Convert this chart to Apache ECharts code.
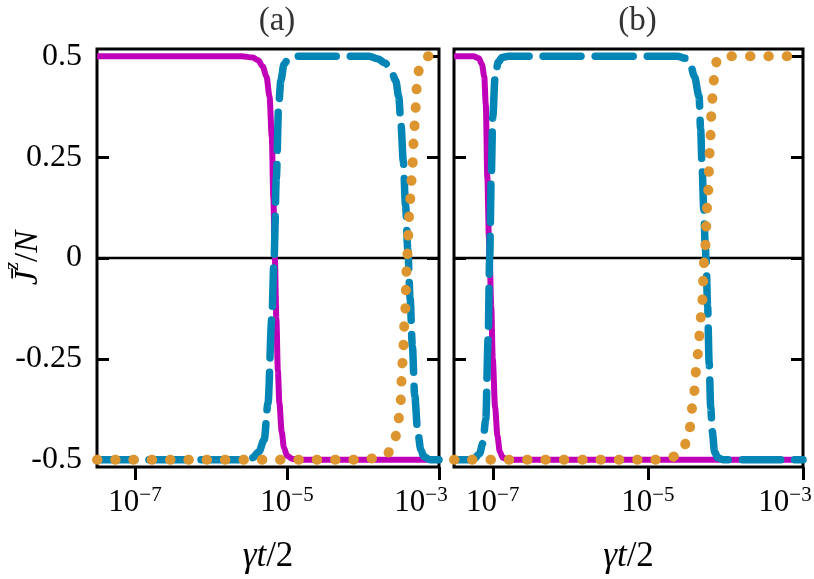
<!DOCTYPE html>
<html>
<head>
<meta charset="utf-8">
<script src="https://cdn.jsdelivr.net/npm/echarts@6/dist/echarts.min.js"></script>
<style>
  html, body { margin: 0; padding: 0; background: #fff; }
  #main { width: 814px; height: 579px; }
</style>
</head>
<body>
<div id="main"></div>
<script>
// x values are log10(gamma t / 2), y values are Jz/N
var xTicks = [-7, -5, -3];
var yTicks = [0.5, 0.25, 0, -0.25, -0.5];
var panelTitles = ['(a)', '(b)'];

// panel (a)
var magentaA = [[-7.5,0.5],[-5.6,0.5],[-5.45,0.497],[-5.38,0.49],[-5.32,0.475],[-5.27,0.45],[-5.23,0.4],[-5.2,0.3],[-5.18,0.15],[-5.16,0],[-5.14,-0.15],[-5.12,-0.28],[-5.1,-0.36],[-5.07,-0.43],[-5.04,-0.47],[-5.0,-0.49],[-4.93,-0.498],[-4.8,-0.5],[-3,-0.5]];
var blueA = [[-7.5,-0.5],[-5.6,-0.5],[-5.45,-0.495],[-5.37,-0.48],[-5.3,-0.45],[-5.25,-0.36],[-5.2,-0.15],[-5.17,0],[-5.14,0.2],[-5.11,0.38],[-5.08,0.44],[-5.04,0.48],[-4.98,0.495],[-4.85,0.5],
  [-3.92,0.5],[-3.8,0.493],[-3.71,0.483],[-3.63,0.465],[-3.57,0.44],[-3.53,0.4],[-3.5,0.33],[-3.47,0.24],[-3.44,0.13],[-3.41,0.02],[-3.38,-0.1],[-3.35,-0.22],[-3.32,-0.34],[-3.28,-0.43],[-3.24,-0.475],[-3.2,-0.492],[-3.12,-0.5],[-3,-0.5]];
var orangeA = [[-7.5,-0.5],[-4.1,-0.5],[-3.88,-0.497],[-3.75,-0.49],[-3.68,-0.485],[-3.62,-0.47],[-3.58,-0.45],[-3.54,-0.41],[-3.51,-0.37],[-3.48,-0.26],[-3.45,-0.15],[-3.42,0],[-3.39,0.11],[-3.37,0.17],[-3.35,0.23],[-3.33,0.3],[-3.31,0.37],[-3.29,0.43],[-3.26,0.47],[-3.21,0.49],[-3.14,0.5],[-3,0.5]];

// panel (b)
var magentaB = [[-7.5,0.5],[-7.25,0.5],[-7.18,0.495],[-7.14,0.48],[-7.11,0.45],[-7.09,0.38],[-7.07,0.2],[-7.05,0.05],[-7.04,0],[-7.02,-0.12],[-7.0,-0.25],[-6.97,-0.37],[-6.94,-0.44],[-6.91,-0.48],[-6.87,-0.495],[-6.8,-0.5],[-3,-0.5]];
var blueB = [[-7.5,-0.5],[-7.3,-0.5],[-7.24,-0.497],[-7.17,-0.485],[-7.13,-0.46],[-7.09,-0.4],[-7.06,-0.2],[-7.04,0],[-7.02,0.2],[-7.0,0.35],[-6.97,0.45],[-6.93,0.485],[-6.88,0.497],[-6.8,0.5],
  [-4.62,0.5],[-4.52,0.495],[-4.46,0.485],[-4.4,0.45],[-4.34,0.4],[-4.32,0.32],[-4.3,0.22],[-4.28,0.12],[-4.26,0.03],[-4.25,0],[-4.23,-0.12],[-4.21,-0.26],[-4.19,-0.37],[-4.17,-0.43],[-4.14,-0.48],[-4.1,-0.495],[-4.03,-0.5],[-3,-0.5]];
var orangeB = [[-7.5,-0.5],[-4.9,-0.5],[-4.75,-0.497],[-4.62,-0.49],[-4.55,-0.475],[-4.5,-0.455],[-4.46,-0.42],[-4.41,-0.34],[-4.36,-0.24],[-4.31,-0.14],[-4.27,0],[-4.23,0.14],[-4.2,0.27],[-4.18,0.36],[-4.16,0.42],[-4.14,0.46],[-4.11,0.49],[-4.06,0.498],[-3.95,0.5],[-3,0.5]];

var xMin = -7.5, xMax = -3;
var yMin = -0.518, yMax = 0.518;

var FONT = 'Liberation Serif';
var magenta = '#c000b8';
var blue = '#0385b6';
var orange = '#dd962f';

var chart = echarts.init(document.getElementById('main'));

var grids = [
  { left: 97, top: 49, width: 342, height: 418 },
  { left: 454, top: 49, width: 349, height: 418 }
];

function makeX(i) {
  return {
    type: 'value', gridIndex: i, min: xMin, max: xMax,
    axisLine: { show: false, onZero: false },
    splitLine: { show: false },
    axisTick: { show: true, inside: false, length: 13, customValues: xTicks, lineStyle: { color: '#000', width: 3 } },
    axisLabel: {
      show: true, margin: 18, customValues: xTicks,
      formatter: function (v) {
        // the last label sits a bit left of its tick, like in the original
        var tail = v === xMax ? '{p|}' : '';
        return '{b|10}{s|\u2212' + Math.abs(v) + '}' + tail;
      },
      rich: {
        b: { fontFamily: FONT, fontSize: 31, lineHeight: 33, verticalAlign: 'bottom', color: '#000' },
        s: { fontFamily: FONT, fontSize: 21, lineHeight: 21, verticalAlign: 'top', color: '#000' },
        p: { width: 36, fontSize: 10 }
      }
    },
    name: '{i|γt}{r|/2}', nameLocation: 'middle', nameGap: 72, nameMoveOverlap: false,
    nameTextStyle: {
      rich: {
        i: { fontFamily: FONT, fontStyle: 'italic', fontSize: 35, color: '#000' },
        r: { fontFamily: FONT, fontSize: 35, color: '#000' }
      }
    }
  };
}

function makeY(i, pos, labels) {
  var ax = {
    type: 'value', gridIndex: i, min: yMin, max: yMax, position: pos,
    axisLine: { show: false, onZero: false },
    splitLine: { show: false },
    axisTick: { show: true, inside: true, length: 12, customValues: yTicks, lineStyle: { color: '#000', width: 3 } },
    axisLabel: { show: labels, margin: 15, customValues: yTicks, fontFamily: FONT, fontSize: 32, color: '#000' }
  };
  if (labels) {
    ax.name = '{j|J̄}{s|z}{r|/}{j|N}';
    ax.nameLocation = 'middle';
    ax.nameGap = 52;
    ax.nameRotate = 90;
    ax.nameMoveOverlap = false;
    ax.nameTextStyle = {
      rich: {
        j: { fontFamily: FONT, fontStyle: 'italic', fontSize: 33, lineHeight: 44, verticalAlign: 'bottom', color: '#000' },
        r: { fontFamily: FONT, fontSize: 33, lineHeight: 44, verticalAlign: 'bottom', color: '#000' },
        s: { fontFamily: FONT, fontStyle: 'italic', fontSize: 22, lineHeight: 22, verticalAlign: 'top', color: '#000' }
      }
    };
  }
  return ax;
}

function curves(i, m, b, o) {
  var yi = i * 2;
  return [
    { type: 'line', xAxisIndex: i, yAxisIndex: yi, data: [[xMin, 0], [xMax, 0]], showSymbol: false, silent: true,
      lineStyle: { color: '#000', width: 2.5 } },
    { type: 'line', xAxisIndex: i, yAxisIndex: yi, data: m, showSymbol: false, smooth: 0.3, smoothMonotone: 'x',
      lineStyle: { color: magenta, width: 6 } },
    { type: 'line', xAxisIndex: i, yAxisIndex: yi, data: b, showSymbol: false, smooth: 0.3, smoothMonotone: 'x',
      lineStyle: { color: blue, width: 7.5, type: [38, 14], cap: 'round' } },
    { type: 'line', xAxisIndex: i, yAxisIndex: yi, data: o, showSymbol: false, smooth: 0.3, smoothMonotone: 'x',
      lineStyle: { color: orange, width: 10, type: [0.5, 17.8], cap: 'round' } }
  ];
}

var option = {
  backgroundColor: '#fff',
  animation: false,
  title: panelTitles.map(function (t, i) {
    return {
      text: t, left: grids[i].left + grids[i].width / 2 + 4, top: 0, textAlign: 'center',
      textStyle: { fontFamily: FONT, fontWeight: 'normal', fontSize: 33, color: '#333' }
    };
  }),
  grid: grids.map(function (g) {
    return { left: g.left, top: g.top, width: g.width, height: g.height, outerBoundsMode: 'none', containLabel: false,
      show: true, borderColor: '#000', borderWidth: 3, backgroundColor: 'transparent' };
  }),
  xAxis: [makeX(0), makeX(1)],
  yAxis: [makeY(0, 'left', true), makeY(0, 'right', false), makeY(1, 'left', false), makeY(1, 'right', false)],
  series: [].concat(curves(0, magentaA, blueA, orangeA), curves(1, magentaB, blueB, orangeB))
};

option && chart.setOption(option);
</script>
</body>
</html>
